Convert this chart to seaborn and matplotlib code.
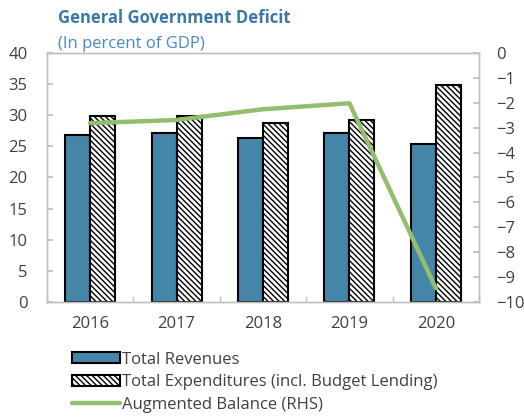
import numpy as np
import pandas as pd
import matplotlib
matplotlib.use("Agg")
import matplotlib.pyplot as plt
from matplotlib.patches import Patch
from matplotlib.lines import Line2D
import seaborn as sns

years = ["2016", "2017", "2018", "2019", "2020"]
revenues = [26.9, 27.2, 26.4, 27.2, 25.4]
expenditures = [29.8, 29.9, 28.8, 29.2, 34.9]
balance = [-2.82, -2.69, -2.26, -2.02, -9.45]

rev_label = "Total Revenues"
exp_label = "Total Expenditures (incl. Budget Lending)"
bal_label = "Augmented Balance (RHS)"

sns.set_theme(style="white")
plt.rcParams["font.family"] = ["Open Sans", "DejaVu Sans"]
plt.rcParams["hatch.linewidth"] = 1.0
plt.rcParams["hatch.color"] = "black"

blue = "#4585a8"
green = "#93bd6f"
grey_axis = "#bfbfbf"
text_col = "#404040"
hatch = "\\" * 6

df = pd.DataFrame({
    "year": years * 2,
    "value": revenues + expenditures,
    "series": [rev_label] * len(years) + [exp_label] * len(years),
})

fig = plt.figure(figsize=(5.24, 4.17), dpi=100)
ax = fig.add_axes([0.0897, 0.2758, 0.8245, 0.5972])

sns.barplot(data=df, x="year", y="value", hue="series",
            palette=[blue, "white"], saturation=1, width=0.58, gap=0,
            edgecolor="black", linewidth=1.5, legend=False, ax=ax)
for patch in ax.containers[1]:
    patch.set_hatch(hatch)

ax.set_ylim(0, 40)
ax.set_yticks(np.arange(0, 41, 5))
ax.set_xlim(-0.5, len(years) - 0.5)
ax.set_xlabel("")
ax.set_ylabel("")

ax2 = ax.twinx()
sns.lineplot(x=np.arange(len(years)), y=balance, color=green,
             linewidth=3.2, ax=ax2)
ax2.set_ylim(-10, 0)
ax2.set_yticks(np.arange(-10, 1, 1))
ax2.set_xlim(-0.5, len(years) - 0.5)

for a in (ax, ax2):
    for s in a.spines.values():
        s.set_color(grey_axis)
        s.set_linewidth(1.0)

ax.tick_params(axis="y", direction="in", length=4, color=grey_axis,
               labelsize=12, labelcolor=text_col, pad=14, left=True)
ax2.tick_params(axis="y", direction="in", length=4, color=grey_axis,
                labelsize=12, labelcolor=text_col, pad=12, right=True)
ax.tick_params(axis="x", length=0, labelsize=12, labelcolor=text_col, pad=10)
ax.set_xticks(np.arange(len(years)))
ax.set_xticklabels(years)
ax.set_xticks(np.arange(-0.5, len(years), 1.0), minor=True)
ax.tick_params(axis="x", which="minor", direction="in", length=4,
               color=grey_axis, bottom=True)
for lbl in ax2.get_yticklabels():
    lbl.set_horizontalalignment("left")

fig.text(0.111, 0.944, "General Government Deficit", fontsize=12,
         fontweight="bold", color="#3c78a8", va="baseline")
fig.text(0.111, 0.884, "(In percent of GDP)", fontsize=12,
         color="#4a8ac4", va="baseline")

handles = [
    Patch(facecolor=blue, edgecolor="black", linewidth=1.5),
    Patch(facecolor="white", edgecolor="black", linewidth=1.5, hatch=hatch),
    Line2D([0], [0], color=green, linewidth=3.2),
]
leg = fig.legend(handles, [rev_label, exp_label, bal_label],
                 loc="upper left", bbox_to_anchor=(0.137, 0.157),
                 frameon=False, fontsize=12, handlelength=2.9,
                 handleheight=0.6, handletextpad=0.1, labelspacing=0.4,
                 borderpad=0, borderaxespad=0)
for t in leg.get_texts():
    t.set_color(text_col)

fig.savefig("out.png", dpi=100)
